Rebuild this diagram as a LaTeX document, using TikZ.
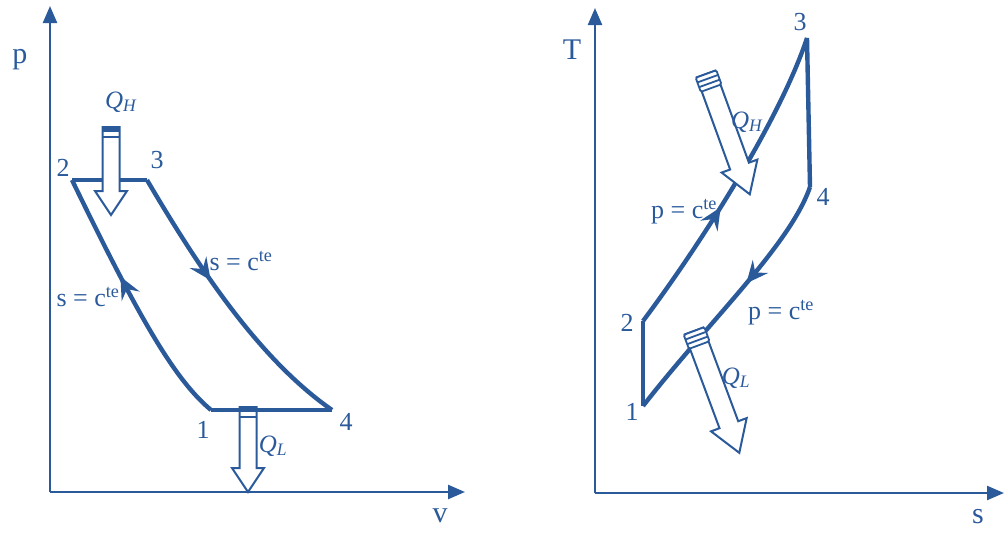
\documentclass[tikz,border=0pt]{standalone}
\usepackage{fontspec}
\setmainfont{Liberation Serif}
\usetikzlibrary{arrows.meta,decorations.markings}
\definecolor{dblue}{RGB}{43,90,155}
\tikzset{
  axis/.style={draw=dblue, line width=2.4pt, -{Triangle[length=17pt,width=14pt]}},
  cyc/.style={draw=dblue, line width=4.4pt, line join=round},
  qbox/.style={draw=dblue, fill=white, line width=2pt, line join=miter},
  midarrow/.style={postaction={decorate}, decoration={markings,
      mark=at position #1 with {\arrow[dblue]{Stealth[length=22pt,width=20pt,inset=8pt]}}}},
  lbl/.style={text=dblue, font=\fontsize{26}{28}\selectfont, inner sep=0pt},
  big/.style={text=dblue, font=\fontsize{30}{32}\selectfont, inner sep=0pt},
  qlbl/.style={text=dblue, font=\fontsize{25}{27}\selectfont, inner sep=0pt}
}
% block arrow with a filled bar at its tail
\newcommand{\qarrowA}[3]{%
  \begin{scope}[shift={(#1)}, rotate=#2]
    \draw[qbox] (0,8.5) -- ({#3-24},8.5) -- ({#3-24},16) -- (#3,0) -- ({#3-24},-16) -- ({#3-24},-8.5) -- (0,-8.5) -- cycle;
    \fill[dblue] (0,-8.5) rectangle (5,8.5);
    \draw[dblue, line width=2pt] (9.5,-8.5) -- (9.5,8.5);
  \end{scope}}
% block arrow with a striped cap at its tail
\newcommand{\qarrowB}[3]{%
  \begin{scope}[shift={(#1)}, rotate=#2]
    \draw[qbox] (0,10) -- ({#3-30},10) -- ({#3-30},19) -- (#3,0) -- ({#3-30},-19) -- ({#3-30},-10) -- (0,-10) -- cycle;
    \draw[qbox, line width=1.8pt, rounded corners=1.5pt] (0,-11) rectangle (15,11);
    \draw[dblue, line width=1.8pt] (5,-11) -- (5,11) (10,-11) -- (10,11);
  \end{scope}}
\begin{document}
\begin{tikzpicture}[x=1pt,y=-1pt]
\useasboundingbox (0,0) rectangle (1005,533);

% ---------------- p-v diagram ----------------
\coordinate (O1) at (50,492);
\coordinate (Y1) at (50,6);
\coordinate (X1) at (465,492);
\draw[axis] (O1) -- (Y1);
\draw[axis] (O1) -- (X1);
\node[big] (lp) at (20,60) {p};
\node[big] (lv) at (440,516) {v};

\coordinate (A1) at (211,410);
\coordinate (A2) at (72,180);
\coordinate (A3) at (147,180);
\coordinate (A4) at (332,410);

\draw[cyc, midarrow=0.6] (A1) .. controls (175,380) and (140,320) .. (A2);
\draw[cyc] (A2) -- (A3);
\draw[cyc, midarrow=0.4] (A3) .. controls (200,270) and (260,360) .. (A4);
\draw[cyc] (A4) -- (A1);

\node[lbl] (n1) at (203,430) {1};
\node[lbl] (n2) at (63,168) {2};
\node[lbl] (n3) at (157,160) {3};
\node[lbl] (n4) at (346,422) {4};
\node[lbl] (s1) at (241,261) {s = c\textsuperscript{te}};
\node[lbl] (s2) at (88,297) {s = c\textsuperscript{te}};

\coordinate (QHa) at (111,127);
\coordinate (QLa) at (248,407);
\qarrowA{QHa}{-90}{88}
\qarrowA{QLa}{-90}{85}
\node[qlbl] (qh1) at (121,102) {\textit{Q}\textsubscript{\textit{H}}};
\node[qlbl] (ql1) at (273,446) {\textit{Q}\textsubscript{\textit{L}}};

% ---------------- T-s diagram ----------------
\coordinate (O2) at (595,493);
\coordinate (Y2) at (595,8);
\coordinate (X2) at (1004,493);
\draw[axis] (O2) -- (Y2);
\draw[axis] (O2) -- (X2);
\node[big] (lT) at (572,50) {T};
\node[big] (ls) at (978,517) {s};

\coordinate (B1) at (643,406);
\coordinate (B2) at (643,321);
\coordinate (B3) at (807,38);
\coordinate (B4) at (810,187);

\draw[cyc] (B1) -- (B2);
\draw[cyc, midarrow=0.42] (B2) .. controls (700,245) and (780,120) .. (B3);
\draw[cyc] (B3) -- (B4);
\draw[cyc, midarrow=0.42] (B4) .. controls (790,245) and (710,320) .. (B1);

\node[lbl] (m1) at (632,412) {1};
\node[lbl] (m2) at (627,323) {2};
\node[lbl] (m3) at (800,22) {3};
\node[lbl] (m4) at (823,197) {4};
\node[lbl] (p1) at (684,212) {p = c\textsuperscript{te}};
\node[lbl] (p2) at (781,313) {p = c\textsuperscript{te}};

\coordinate (QHb) at (706,74);
\coordinate (QLb) at (694,331);
\qarrowB{QHb}{-70}{128}
\qarrowB{QLb}{-69.6}{130}
\node[qlbl] (qh2) at (747,122) {\textit{Q}\textsubscript{\textit{H}}};
\node[qlbl] (ql2) at (736,378) {\textit{Q}\textsubscript{\textit{L}}};
\end{tikzpicture}
\end{document}
